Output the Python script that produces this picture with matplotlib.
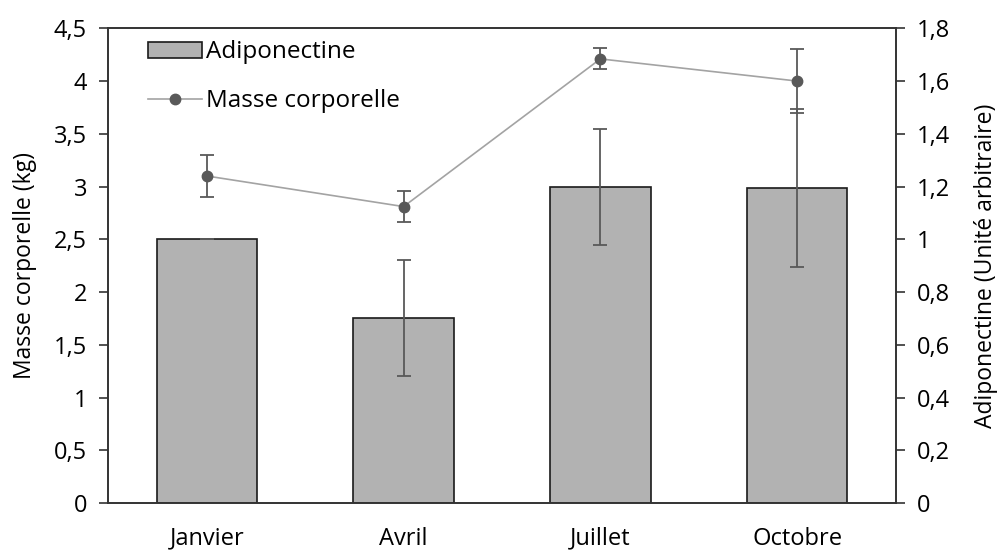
import numpy as np
import matplotlib
matplotlib.use("Agg")
import matplotlib.pyplot as plt

plt.rcParams['font.family'] = ['Open Sans', 'DejaVu Sans']

mois = ['Janvier', 'Avril', 'Juillet', 'Octobre']
# Adiponectine (unite arbitraire), axe droit
adipo = [1.0, 0.70, 1.20, 1.195]
adipo_err = [0.0, 0.22, 0.22, 0.30]
# Masse corporelle (kg), axe gauche
masse = [3.10, 2.81, 4.21, 4.0]
masse_err = [0.20, 0.15, 0.10, 0.30]

x = np.arange(len(mois))
fs = 17

fig = plt.figure(figsize=(9.97, 5.53), dpi=100)
ax = fig.add_axes([0.1088, 0.0904, 0.7894, 0.8584])
ax2 = ax.twinx()

bars = ax2.bar(x, adipo, width=0.51, color='#b2b2b2', edgecolor='#1a1a1a',
               linewidth=1.2, label='Adiponectine')
ax2.errorbar(x, adipo, yerr=adipo_err, fmt='none', ecolor='#595959',
             elinewidth=1.3, capsize=4.7, capthick=1.3)

line, = ax.plot(x, masse, color='#a3a3a3', linewidth=1.2, marker='o',
                markersize=7.5, markerfacecolor='#595959', markeredgecolor='#595959',
                label='Masse corporelle')
ax.errorbar(x, masse, yerr=masse_err, fmt='none', ecolor='#595959',
            elinewidth=1.3, capsize=4.7, capthick=1.3)

ax.set_zorder(ax2.get_zorder() + 1)
ax.patch.set_visible(False)

ax.set_xlim(-0.5, 3.5)
ax.set_ylim(0, 4.5)
ax2.set_ylim(0, 1.8)

ax.set_xticks(x)
ax.set_xticklabels(mois, fontsize=fs)
ax.tick_params(axis='x', length=0, pad=17)

lt = np.arange(0, 4.51, 0.5)
ax.set_yticks(lt)
ax.set_yticklabels([('%g' % v).replace('.', ',') for v in lt], fontsize=fs)
rt = np.arange(0, 1.81, 0.2)
ax2.set_yticks(rt)
ax2.set_yticklabels([('%g' % round(v, 1)).replace('.', ',') for v in rt], fontsize=fs)
ax.tick_params(axis='y', direction='out', length=6.5, width=1.2, color='#333333', pad=9)
ax2.tick_params(axis='y', direction='out', length=6.5, width=1.2, color='#333333', pad=9)

ax.set_ylabel('Masse corporelle (kg)', fontsize=16.5, labelpad=12)
ax2.set_ylabel('Adiponectine (Unité arbitraire)', fontsize=16.5, labelpad=17)

for a in (ax, ax2):
    for s in a.spines.values():
        s.set_color('#333333')
        s.set_linewidth(1.2)

ax.legend([bars, line], ['Adiponectine', 'Masse corporelle'], loc='upper left',
          bbox_to_anchor=(0.0226, 1.021), frameon=False, fontsize=17.5,
          handlelength=2.2, handleheight=0.62, handletextpad=0.2, labelspacing=1.04)

fig.savefig('out.png', dpi=100)
